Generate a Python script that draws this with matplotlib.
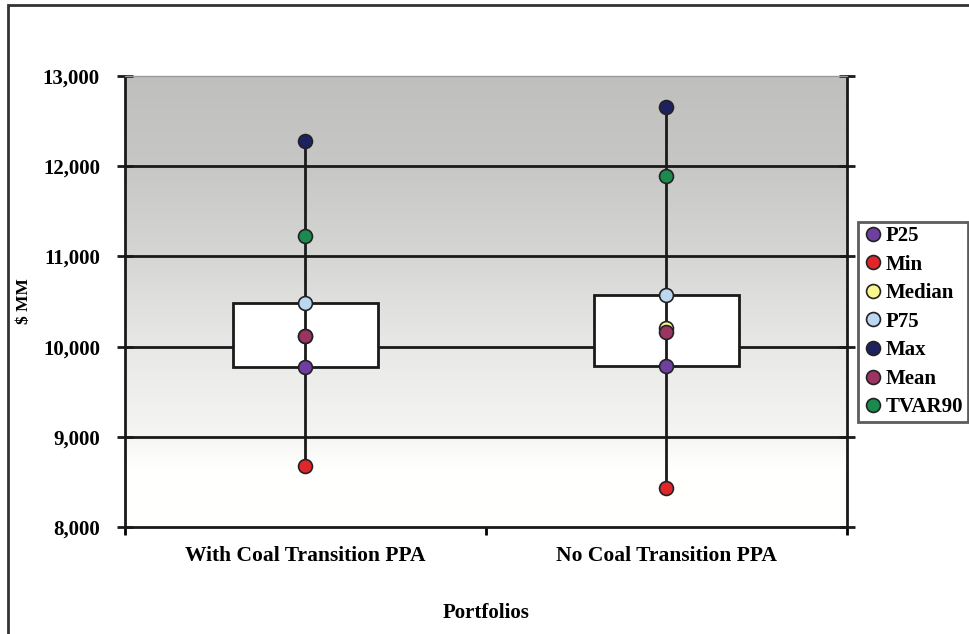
import matplotlib
matplotlib.use('Agg')
import matplotlib.pyplot as plt
from matplotlib.patches import Rectangle
from matplotlib.ticker import FuncFormatter
import numpy as np

plt.rcParams['font.family'] = ['Liberation Serif', 'DejaVu Serif']
plt.rcParams['font.weight'] = 'bold'
plt.rcParams['axes.labelweight'] = 'bold'

portfolios = ['With Coal Transition PPA', 'No Coal Transition PPA']
stat_names = ['P25', 'Min', 'Median', 'P75', 'Max', 'Mean', 'TVAR90']
p25 = [9775, 9785]
pmin = [8675, 8430]
median = [10115, 10205]
p75 = [10480, 10570]
pmax = [12280, 12655]
mean = [10115, 10160]
tvar90 = [11225, 11890]
stat_values = [p25, pmin, median, p75, pmax, mean, tvar90]
stat_colors = ['#6f3fa0', '#e0262b', '#fbf58f', '#bcd8f0', '#1e2160', '#9a3462', '#1b8a4e']

fig = plt.figure(figsize=(9.7, 6.34), dpi=100)
ax = fig.add_axes([125/970, 1-527/634, 722/970, 451/634])

# gray-to-white background gradient (row 0 = top)
t = np.linspace(0, 1, 200)
g = np.interp(t, [0, 0.2, 0.4, 0.6, 0.8, 0.87, 1], [0.75, 0.78, 0.84, 0.91, 0.96, 1.0, 1.0])
grad = np.repeat(g[:, None], 2, axis=1)
ax.imshow(np.dstack([grad, grad, grad * 0.995]), extent=[0, 2, 8000, 13000],
          origin='upper', aspect='auto', zorder=0, interpolation='bilinear')

ax.set_xlim(0, 2)
ax.set_ylim(8000, 13000)
for yv in [9000, 10000, 11000, 12000]:
    ax.axhline(yv, color='#1a1a1a', lw=2, zorder=1)

xs = np.arange(len(portfolios)) + 0.5
for i, x in enumerate(xs):
    ax.add_patch(Rectangle((x - 0.2, p25[i]), 0.4, p75[i] - p25[i], facecolor='white',
                           edgecolor='#1a1a1a', lw=2, zorder=2))
    ax.plot([x, x], [pmin[i], pmax[i]], color='#1a1a1a', lw=2, zorder=3)

for name, vals, c in zip(stat_names, stat_values, stat_colors):
    ax.plot(xs, vals, 'o', ms=10, color=c, mec='#222222', mew=1.2, label=name, zorder=4)

for s in ax.spines.values():
    s.set_linewidth(2)
    s.set_color('#1a1a1a')
ax.spines['top'].set_linewidth(1)
ax.spines['top'].set_color('#999999')

ax.set_yticks([8000, 9000, 10000, 11000, 12000, 13000])
ax.yaxis.set_major_formatter(FuncFormatter(lambda v, p: '{:,.0f}'.format(v)))
ax.tick_params(axis='y', direction='inout', length=12, width=2, labelsize=15, pad=12,
               right=True, color='#1a1a1a')
ax.set_xticks([0, 1, 2])
ax.set_xticklabels([])
ax.tick_params(axis='x', which='major', direction='out', length=6, width=2)
ax.set_xticks(xs, minor=True)
ax.set_xticklabels(portfolios, minor=True)
ax.tick_params(axis='x', which='minor', length=0, labelsize=15.5, pad=14)

ax.set_ylabel('$ MM', fontsize=12.5, fontweight='bold', labelpad=8)
ax.set_xlabel('Portfolios', fontsize=15, fontweight='bold', labelpad=26)

leg = fig.legend(loc='upper left', bbox_to_anchor=(858/970, 1-222/634),
                 prop={'size': 15, 'weight': 'bold'},
                 frameon=True, fancybox=False, handletextpad=0.15, labelspacing=0.41,
                 handlelength=1.0, borderpad=0.2, borderaxespad=0, markerscale=1.0)
leg.get_frame().set_edgecolor('#333333')
leg.get_frame().set_linewidth(2)

fig.patches.append(Rectangle((8/970, -0.2), 1.5, 1.2 - 5/634, transform=fig.transFigure,
                             fill=False, lw=2, edgecolor='#333333'))

fig.savefig('out.png', dpi=100)
